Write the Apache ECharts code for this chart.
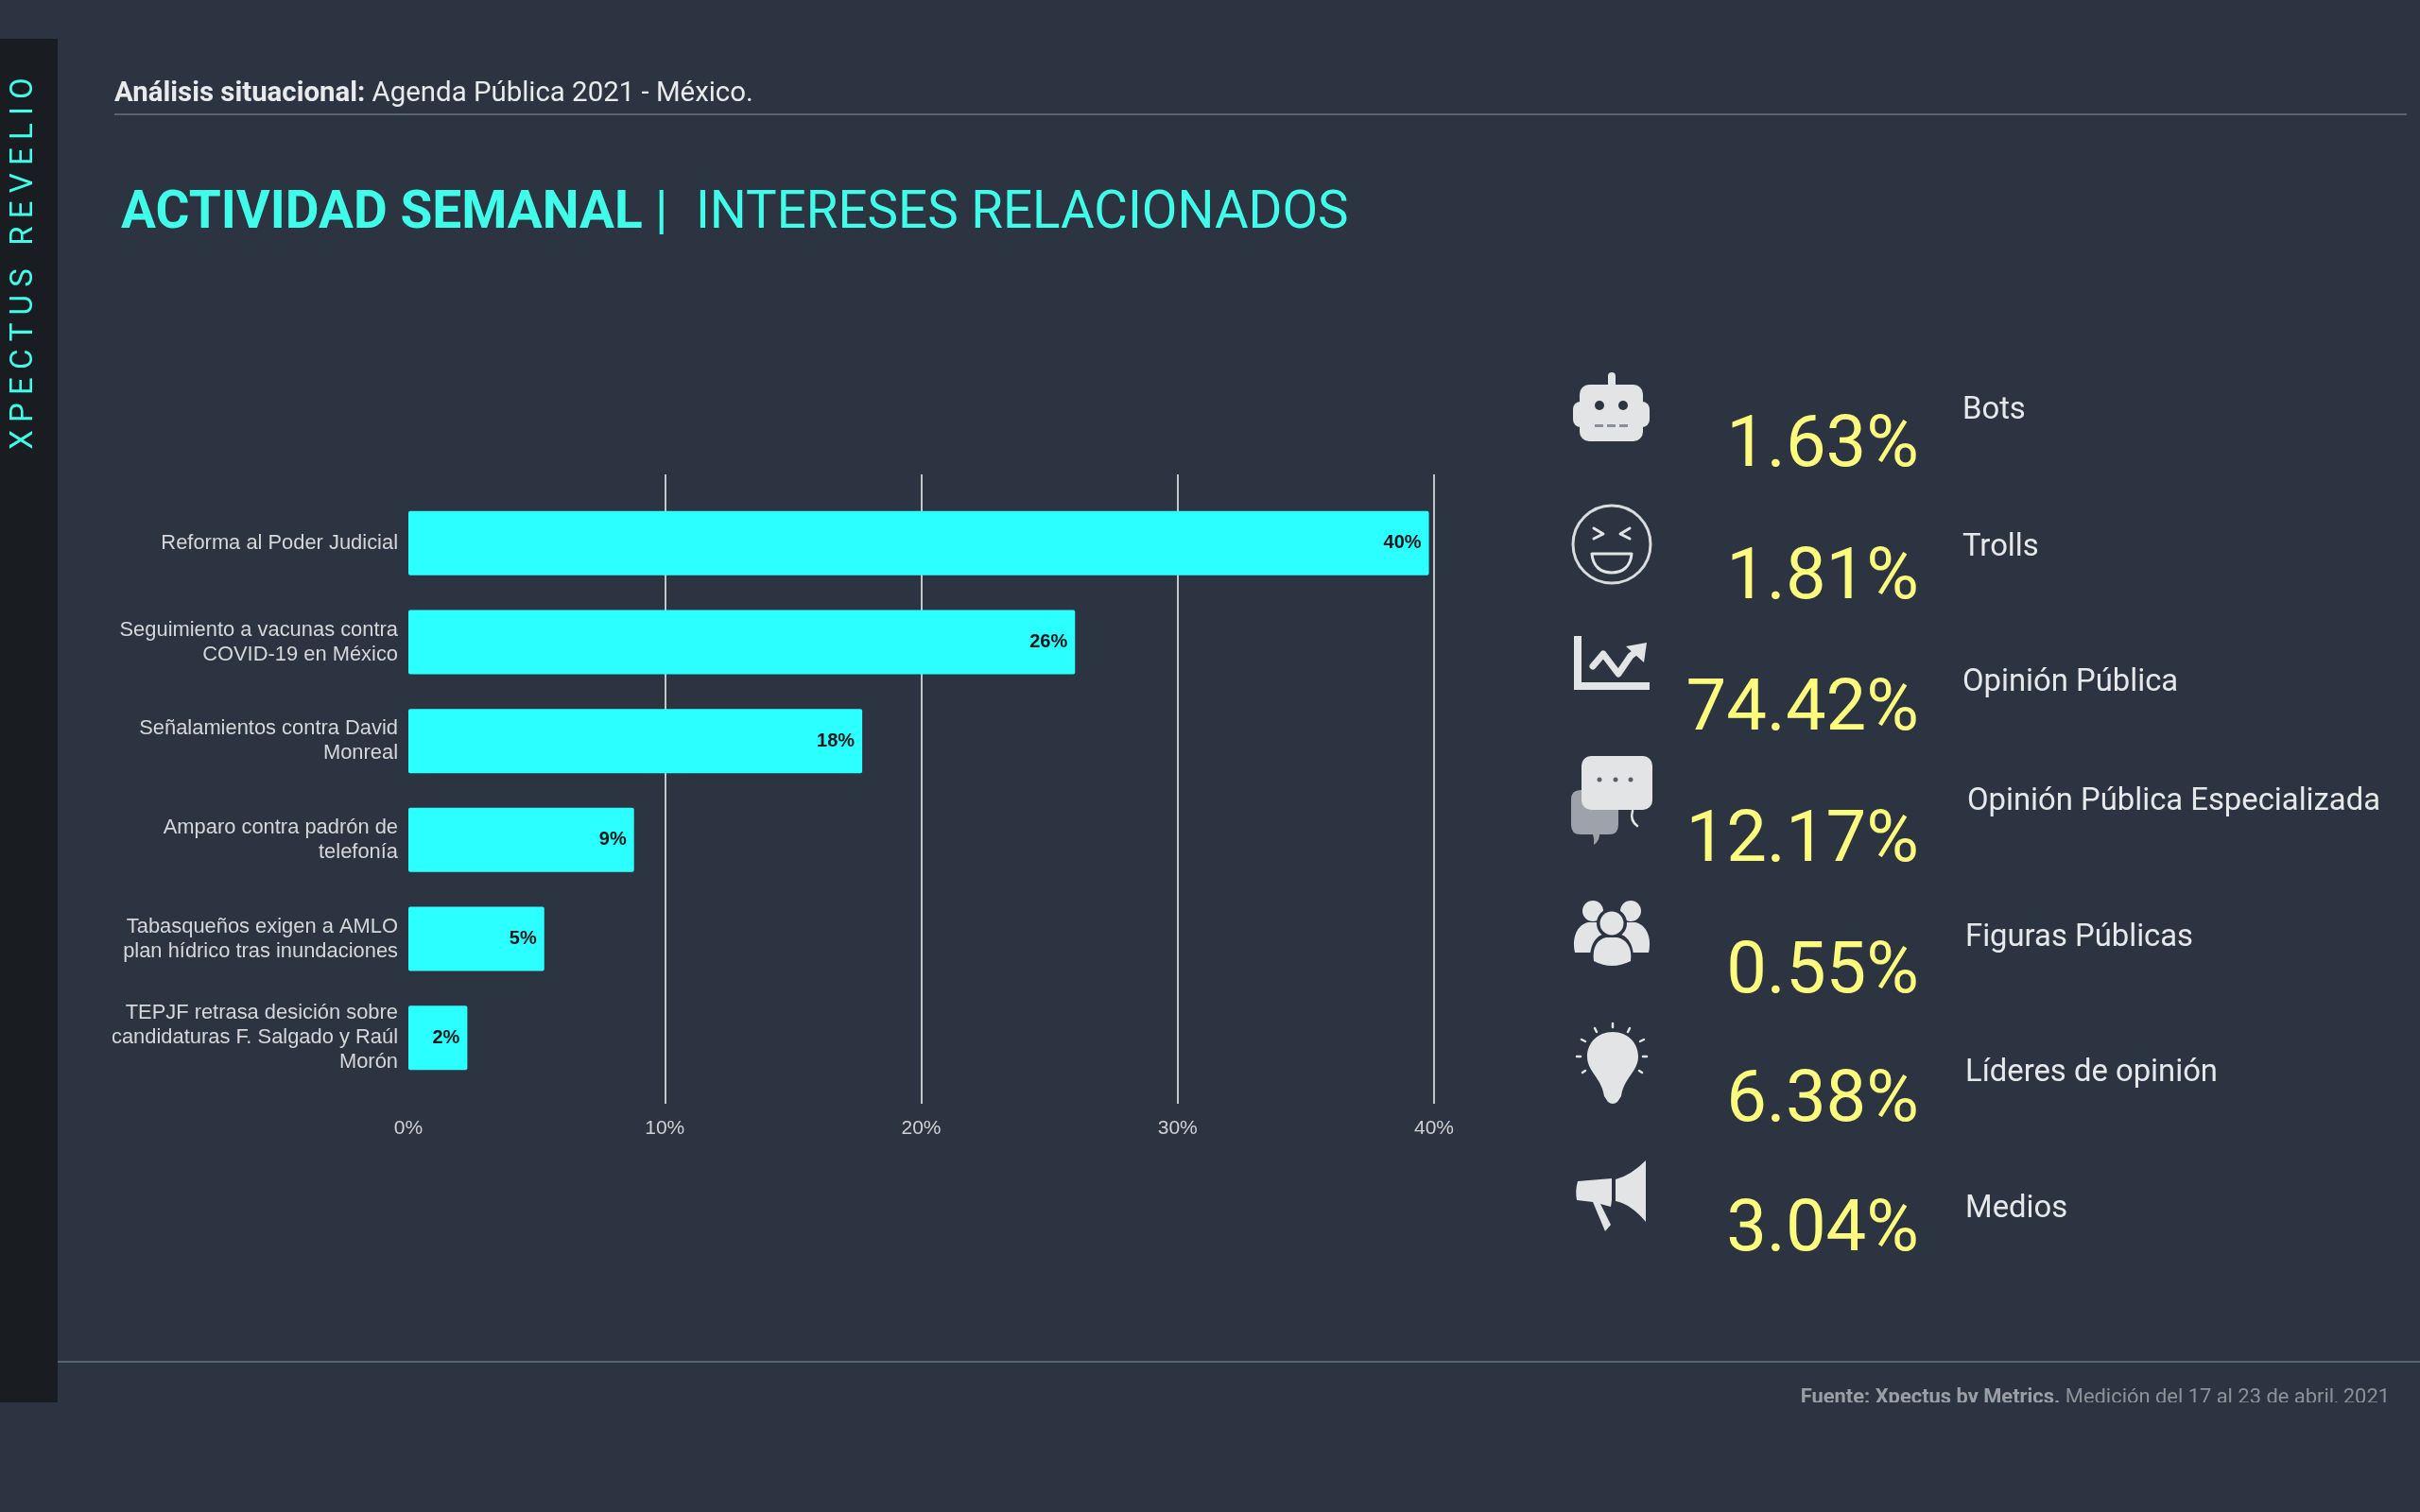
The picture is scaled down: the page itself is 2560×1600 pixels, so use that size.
<!DOCTYPE html>
<html>
<head>
<meta charset="utf-8">
<title>Intereses relacionados</title>
<script src="https://cdn.jsdelivr.net/npm/echarts@6/dist/echarts.min.js"></script>
<style>
  html, body { margin: 0; padding: 0; background: #2d3441; }
  #main { width: 2560px; height: 1600px; }
</style>
</head>
<body>
<div id="main"></div>
<script>
// chart values
const categories = [
  'Reforma al Poder Judicial',
  'Seguimiento a vacunas contra\nCOVID-19 en México',
  'Señalamientos contra David\nMonreal',
  'Amparo contra padrón de\ntelefonía',
  'Tabasqueños exigen a AMLO\nplan hídrico tras inundaciones',
  'TEPJF retrasa desición sobre\ncandidaturas F. Salgado y Raúl\nMorón'
];
const shares = [39.8, 26.0, 17.7, 8.8, 5.3, 2.3];
const barLabels = ['40%', '26%', '18%', '9%', '5%', '2%'];
const statValues = ['1.63%', '1.81%', '74.42%', '12.17%', '0.55%', '6.38%', '3.04%'];
const statNames = ['Bots', 'Trolls', 'Opinión Pública', 'Opinión Pública Especializada', 'Figuras Públicas', 'Líderes de opinión', 'Medios'];

// layout of the right column
const statValueY = [474, 614, 753, 892, 1031, 1167, 1304];
const statNameY = [435, 580, 723, 849, 993, 1136, 1280];
const statNameX = [2076, 2076, 2076, 2081, 2079, 2079, 2079];

const BG = '#2d3441';
const ICON = '#e2e4e5';

function txt (x, y, text, font, fill, align) {
  return { type: 'text', x: x, y: y, z: 10, silent: true,
    style: { text: text, font: font, fill: fill, align: align || 'left', verticalAlign: 'middle' } };
}
function box (x, y, w, h, r, fill, z) {
  return { type: 'rect', z: z || 5, silent: true, shape: { x: x, y: y, width: w, height: h, r: r || 0 }, style: { fill: fill } };
}
function dot (cx, cy, r, fill) {
  return { type: 'circle', z: 5, silent: true, shape: { cx: cx, cy: cy, r: r }, style: { fill: fill } };
}
// graphic component has no plain path type, so each icon path gets registered as a shape
let shapeCount = 0;
function pathShape (d) {
  const name = 'iconPath' + (shapeCount++);
  echarts.graphic.registerShape(name, echarts.graphic.extendPath(d, {}));
  return name;
}
function fillPath (d, fill) {
  return { type: pathShape(d), z: 5, silent: true, shape: {}, style: { fill: fill } };
}
function linePath (d, stroke, width) {
  return { type: pathShape(d), z: 5, silent: true, shape: {},
    style: { fill: 'none', stroke: stroke, lineWidth: width, lineJoin: 'round', lineCap: 'round' } };
}

function icons () {
  return [
    // robot
    box(1701, 394, 8, 18, 4, ICON),
    box(1671, 407, 67, 60, 10, ICON),
    box(1664, 425, 81, 27, 8, ICON),
    dot(1692, 429, 5, BG), dot(1717, 429, 5, BG),
    box(1687, 449, 9, 3, 0, '#8b9098'), box(1700, 449, 9, 3, 0, '#8b9098'), box(1713, 449, 9, 3, 0, '#8b9098'),
    // troll face
    { type: 'circle', z: 5, silent: true, shape: { cx: 1705, cy: 576, r: 41 }, style: { fill: 'none', stroke: '#d9dbdd', lineWidth: 3 } },
    linePath('M1686 559 L1696 565 L1686 570', ICON, 3),
    linePath('M1724 559 L1714 565 L1724 570', ICON, 3),
    linePath('M1684 586 L1726 586 C1725 600 1716 606 1705 606 C1694 606 1685 600 1684 586 Z', ICON, 3),
    // trend chart
    fillPath('M1665 673 L1673 673 L1673 722 L1745 722 L1745 730 L1665 730 Z', ICON),
    linePath('M1685 705 L1696 692 L1712 713 L1725 694 L1733 688', ICON, 7),
    fillPath('M1742 680 L1739 701 L1720 684 Z', ICON),
    // speech bubbles
    fillPath('M1672 836 L1702 836 Q1712 836 1712 846 L1712 873 Q1712 883 1702 883 L1692 883 Q1692 890 1686 894 Q1687 888 1685 883 L1672 883 Q1662 883 1662 873 L1662 846 Q1662 836 1672 836 Z', '#9ea3ab'),
    box(1673, 800, 75, 57, 10, ICON),
    linePath('M1727 858 Q1724 868 1732 874', ICON, 2.5),
    dot(1692, 825, 2.5, '#5a6068'), dot(1709, 825, 2.5, '#5a6068'), dot(1725, 825, 2.5, '#5a6068'),
    // people
    dot(1685, 964, 11, ICON), dot(1725, 964, 11, ICON),
    fillPath('M1666 1008 C1662 990 1670 978 1680 976 L1690 976 C1700 978 1704 990 1700 1008 Z', ICON),
    fillPath('M1706 1008 C1702 990 1710 978 1720 976 L1730 976 C1740 978 1748 990 1744 1008 Z', ICON),
    dot(1705, 977, 16, BG),
    fillPath('M1682 1024 C1680 1000 1688 990 1698 988 L1712 988 C1722 990 1730 1000 1728 1024 Z', BG),
    dot(1705, 977, 12.5, ICON),
    fillPath('M1686 1017 C1684 1002 1690 994 1699 992 L1711 992 C1720 994 1727 1002 1725 1017 Q1705 1027 1686 1017 Z', ICON),
    // light bulb
    fillPath('M1706 1092 C1722 1092 1733 1104 1733 1118 C1733 1134 1718 1140 1715 1160 L1711 1166 Q1706 1170 1701 1166 L1697 1160 C1694 1140 1679 1134 1679 1118 C1679 1104 1690 1092 1706 1092 Z', ICON),
    linePath('M1706 1083 L1706 1087', ICON, 2.5),
    linePath('M1687 1088 L1689 1092', ICON, 2.5),
    linePath('M1724 1088 L1722 1092', ICON, 2.5),
    linePath('M1673 1100 L1677 1102', ICON, 2.5),
    linePath('M1739 1100 L1735 1102', ICON, 2.5),
    linePath('M1668 1118 L1672 1118', ICON, 2.5),
    linePath('M1738 1118 L1742 1118', ICON, 2.5),
    linePath('M1674 1135 L1677 1133', ICON, 2.5),
    linePath('M1737 1135 L1734 1133', ICON, 2.5),
    // megaphone
    fillPath('M1741 1228 L1741 1293 Q1725 1274 1709 1271 L1709 1248 Q1725 1244 1741 1228 Z', ICON),
    fillPath('M1669 1250 L1705 1247 L1705 1270 L1704 1277 L1693 1274 L1704 1296 L1698 1303 L1685 1272 L1668 1270 Q1666 1260 1669 1250 Z', ICON)
  ];
}

function pageGraphics () {
  const list = [
    // side band
    box(0, 41, 61, 1443, 0, '#191c20', 1),
    { type: 'text', x: 26, y: 279, rotation: Math.PI / 2, z: 10, silent: true,
      style: { text: 'X P E C T U S   R E V E L I O', font: '400 33px Roboto', fill: '#3ffde8', align: 'center', verticalAlign: 'middle' } },
    // header
    { type: 'text', x: 121, y: 100, z: 10, silent: true,
      style: { text: '{b|Análisis situacional:\u00a0}{r|Agenda Pública 2021 - México.}', verticalAlign: 'middle',
        rich: {
          b: { font: '700 29.4px Roboto', fill: '#e8eaec' },
          r: { font: '400 29.4px Roboto', fill: '#e8eaec' }
        } } },
    box(121, 120, 2425, 2, 0, '#566670', 1),
    // title
    txt(128, 227, 'ACTIVIDAD SEMANAL', '700 55px Roboto', '#3ffde8'),
    txt(693, 227, '|', '400 55px Roboto', '#3ffde8'),
    txt(736, 227, 'INTERESES RELACIONADOS', '400 54.7px Roboto', '#3ffde8'),
    // footer, the bottom of the text is cut off in the original
    box(61, 1440, 2499, 2, 0, '#566670', 1),
    { type: 'text', x: 2528, y: 1480, z: 10, silent: true,
      style: { text: '{b|Fuente: Xpectus by Metrics.\u00a0}{r|Medición del 17 al 23 de abril, 2021}', align: 'right', verticalAlign: 'middle',
        rich: {
          b: { font: '700 21.9px Roboto', fill: '#9a9fa6' },
          r: { font: '400 21.9px Roboto', fill: '#8d9299' }
        } } },
    box(0, 1484, 2560, 116, 0, BG, 20)
  ];
  statValues.forEach(function (v, i) {
    list.push(txt(2030, statValueY[i], v, '400 76px Roboto', '#fdfb7e', 'right'));
    list.push(txt(statNameX[i], statNameY[i], statNames[i], '400 32.8px Roboto', '#e6e8ea'));
  });
  return list.concat(icons());
}

const chart = echarts.init(document.getElementById('main'));
chart.setOption({
  backgroundColor: BG,
  animation: false,
  grid: [
    { left: 432, top: 522.5, width: 1085, height: 628 },
    // longer grid only for the vertical lines and the tick labels
    { left: 432, top: 502, width: 1085, height: 666 }
  ],
  xAxis: [{
    type: 'value', gridIndex: 0, min: 0, max: 40, show: false
  }, {
    type: 'value', gridIndex: 1, min: 0, max: 40, interval: 10,
    axisLine: { show: false },
    axisTick: { show: false },
    splitLine: { show: true, showMinLine: false, lineStyle: { color: '#c3c6c8', width: 2 } },
    axisLabel: { color: '#cfd1d3', fontFamily: 'Liberation Sans', fontSize: 21, margin: 16, formatter: '{value}%' }
  }],
  yAxis: [{
    type: 'category', gridIndex: 0, inverse: true, data: categories,
    axisLine: { show: false },
    axisTick: { show: false },
    axisLabel: { color: '#d5d7d9', fontFamily: 'Liberation Sans', fontSize: 21.9, lineHeight: 26, margin: 11, align: 'right' }
  }, {
    type: 'category', gridIndex: 1, show: false, data: categories
  }],
  series: [{
    type: 'bar', xAxisIndex: 0, yAxisIndex: 0, data: shares, barWidth: 68,
    itemStyle: { color: '#2bffff', borderRadius: 2 },
    label: {
      show: true, position: 'insideRight', distance: 8,
      color: '#14181c', fontFamily: 'Liberation Sans', fontWeight: 'bold', fontSize: 20,
      formatter: function (p) { return barLabels[p.dataIndex]; }
    }
  }],
  graphic: pageGraphics()
});
</script>
</body>
</html>
